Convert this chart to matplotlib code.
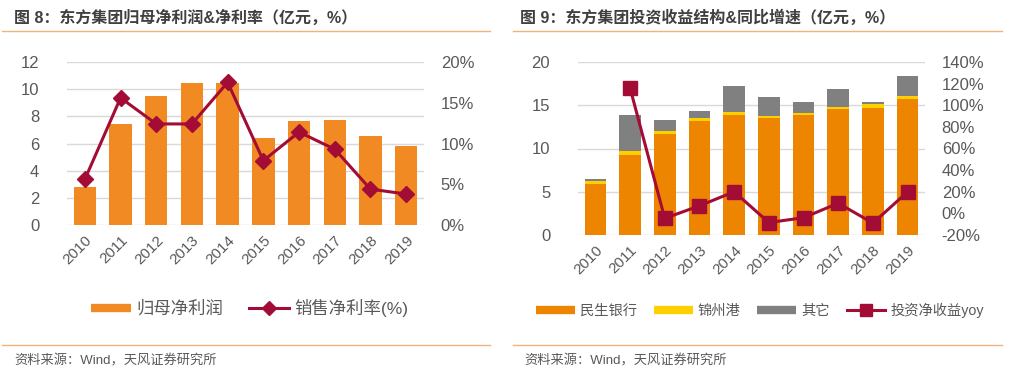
import numpy as np
import matplotlib
matplotlib.use("Agg")
from matplotlib import pyplot as plt
from matplotlib.ticker import FuncFormatter
from matplotlib.lines import Line2D

plt.rcParams['font.family'] = ['Liberation Sans', 'Noto Sans CJK SC', 'DejaVu Sans']

years = ['2010', '2011', '2012', '2013', '2014', '2015', '2016', '2017', '2018', '2019']

# chart 8: net profit (亿元) and net margin (%)
net_profit = [2.83, 7.46, 9.48, 10.42, 10.42, 6.40, 7.64, 7.71, 6.55, 5.81]
net_margin = [5.6, 15.6, 12.4, 12.4, 17.5, 7.9, 11.4, 9.3, 4.4, 3.8]

# chart 9: investment income structure (亿元) and yoy (%)
minsheng = [5.88, 9.28, 11.72, 13.23, 13.85, 13.50, 13.93, 14.51, 14.70, 15.67]
jinzhou = [0.42, 0.47, 0.31, 0.27, 0.39, 0.23, 0.19, 0.23, 0.43, 0.35]
others = [0.16, 4.18, 1.32, 0.89, 2.97, 2.21, 1.20, 2.09, 0.23, 2.32]
invest_yoy = [np.nan, 116, -4.6, 7, 20, -8.5, -4, 9.4, -9, 20]

ORANGE_L = '#F28A24'
ORANGE_R = '#EE8500'
YELLOW = '#FFD000'
GRAY = '#808080'
RED = '#A30D35'
GRID = '#D9D9D9'
TXT = '#595959'
SEP = '#F2B27A'

W, H = 1014, 376
fig = plt.figure(figsize=(W / 100, H / 100), dpi=100)


def box(x0, y0, x1, y1):
    return [x0 / W, 1 - y1 / H, (x1 - x0) / W, (y1 - y0) / H]


def style(ax, ax2):
    for a in (ax, ax2):
        for s in a.spines.values():
            s.set_visible(False)
        a.tick_params(length=0, colors=TXT, labelsize=12)
    ax.grid(axis='y', color=GRID, linewidth=1)
    ax.set_axisbelow(True)
    ax.tick_params(axis='y', pad=20)
    ax2.tick_params(axis='y', pad=12)
    ax.tick_params(axis='x', pad=6, labelsize=11)
    for lab in ax.get_xticklabels():
        lab.set_rotation(45)
        lab.set_ha('right')
        lab.set_rotation_mode('anchor')


def bar_handle(c):
    return Line2D([], [], color=c, lw=6, solid_capstyle='butt')


pct = FuncFormatter(lambda v, p: '%d%%' % round(v))
x = np.arange(len(years))

# ---- left chart
fig.text(14 / W, 1 - 18 / H, '图 8：东方集团归母净利润&净利率（亿元，%）', fontsize=11.5,
         fontweight='bold', color='#404040', va='center')
fig.add_artist(Line2D([2 / W, 490 / W], [1 - 31 / H, 1 - 31 / H], color=SEP, lw=1))
fig.add_artist(Line2D([2 / W, 490 / W], [1 - 345 / H, 1 - 345 / H], color=SEP, lw=1))
fig.text(14 / W, 1 - 361 / H, '资料来源：Wind，天风证券研究所', fontsize=9.5, color=TXT, va='center')

ax = fig.add_axes(box(67, 62, 424, 225))
ax.bar(x, net_profit, width=0.63, color=ORANGE_L)
ax.set_ylim(0, 12)
ax.set_yticks(range(0, 13, 2))
ax.set_xlim(-0.5, len(years) - 0.5)
ax.set_xticks(x)
ax.set_xticklabels(years)
ax2 = ax.twinx()
ax2.plot(x, net_margin, color=RED, lw=2.2, marker='D', markersize=8)
ax2.set_ylim(0, 20)
ax2.set_yticks(range(0, 21, 5))
ax2.yaxis.set_major_formatter(pct)
style(ax, ax2)

h1 = [bar_handle(ORANGE_L), Line2D([], [], color=RED, lw=2.2, marker='D', markersize=7)]
fig.legend(h1, ['归母净利润', '销售净利率(%)'], loc='center', bbox_to_anchor=(250 / W, 1 - 308 / H),
           ncol=2, frameon=False, fontsize=12.5, labelcolor=TXT, handlelength=2.3,
           columnspacing=1.5, handletextpad=0.3)

# ---- right chart
fig.text(520 / W, 1 - 18 / H, '图 9：东方集团投资收益结构&同比增速（亿元，%）', fontsize=11.5,
         fontweight='bold', color='#404040', va='center')
fig.add_artist(Line2D([513 / W, 1002 / W], [1 - 31 / H, 1 - 31 / H], color=SEP, lw=1))
fig.add_artist(Line2D([513 / W, 1002 / W], [1 - 345 / H, 1 - 345 / H], color=SEP, lw=1))
fig.text(524 / W, 1 - 361 / H, '资料来源：Wind，天风证券研究所', fontsize=9.5, color=TXT, va='center')

bx = fig.add_axes(box(578, 62, 925, 235))
b1 = np.array(minsheng)
b2 = np.array(jinzhou)
bx.bar(x, minsheng, width=0.62, color=ORANGE_R)
bx.bar(x, jinzhou, width=0.62, bottom=b1, color=YELLOW)
bx.bar(x, others, width=0.62, bottom=b1 + b2, color=GRAY)
bx.set_ylim(0, 20)
bx.set_yticks(range(0, 21, 5))
bx.set_xlim(-0.5, len(years) - 0.5)
bx.set_xticks(x)
bx.set_xticklabels(years)
bx2 = bx.twinx()
bx2.plot(x, invest_yoy, color=RED, lw=2.2, marker='s', markersize=10)
bx2.set_ylim(-20, 140)
bx2.set_yticks(range(-20, 141, 20))
bx2.yaxis.set_major_formatter(pct)
style(bx, bx2)

h2 = [bar_handle(ORANGE_R), bar_handle(YELLOW), bar_handle(GRAY),
      Line2D([], [], color=RED, lw=2.2, marker='s', markersize=8)]
fig.legend(h2, ['民生银行', '锦州港', '其它', '投资净收益yoy'], loc='center',
           bbox_to_anchor=(760 / W, 1 - 310 / H), ncol=4, frameon=False, fontsize=10.3,
           labelcolor=TXT, handlelength=2.7, columnspacing=1.2, handletextpad=0.35)

fig.savefig('out.png', dpi=100)
